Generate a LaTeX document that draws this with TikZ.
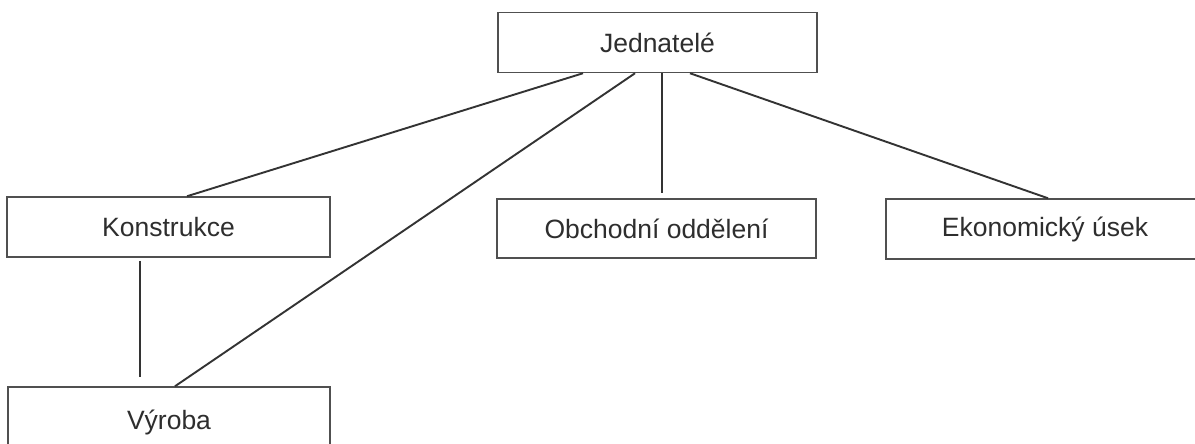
\documentclass[tikz,border=0pt]{standalone}
\usepackage{fontspec}
\setmainfont{Liberation Sans}
\definecolor{boxline}{HTML}{505050}
\definecolor{conline}{HTML}{333333}
\definecolor{txt}{HTML}{2E2E2E}
\begin{document}
\begin{tikzpicture}[x=1pt,y=-1pt,
  unit/.style={draw=boxline, line width=1.5pt, fill=white, inner sep=0pt,
    text=txt, font=\fontsize{26.5}{30}\selectfont, minimum height=#1},
  unit/.default=60pt,
  conn/.style={draw=conline, line width=1.9pt}]
\useasboundingbox (0,0) rectangle (1195,444);
\fill[white] (0,0) rectangle (1195,444);
\node[unit, minimum width=319pt] (jed) at (657.5,42.5) {Jednatelé};
\node[unit, minimum width=323pt] (kon) at (168.5,227) {Konstrukce};
\node[unit=70pt, minimum width=322pt] (vyr) at (169,422) {Výroba};
\node[unit, minimum width=319pt, minimum height=59pt] (obch) at (656.5,228.5) {Obchodní oddělení};
\node[unit, minimum width=318pt] (eko) at (1045,229) {Ekonomický úsek};
\draw[conn] ([xshift=-74.5pt]jed.south) -- ([xshift=18.5pt]kon.north);
\draw[conn] ([xshift=-22.5pt]jed.south) -- ([xshift=6pt]vyr.north);
\draw[conn, shorten >=5pt] ([xshift=4.5pt]jed.south) -- ([xshift=5.5pt]obch.north);
\draw[conn] ([xshift=32.5pt]jed.south) -- ([xshift=3pt]eko.north);
\draw[conn, shorten <=3pt, shorten >=9pt] ([xshift=-28.5pt]kon.south) -- ([xshift=-29pt]vyr.north);
\end{tikzpicture}
\end{document}
